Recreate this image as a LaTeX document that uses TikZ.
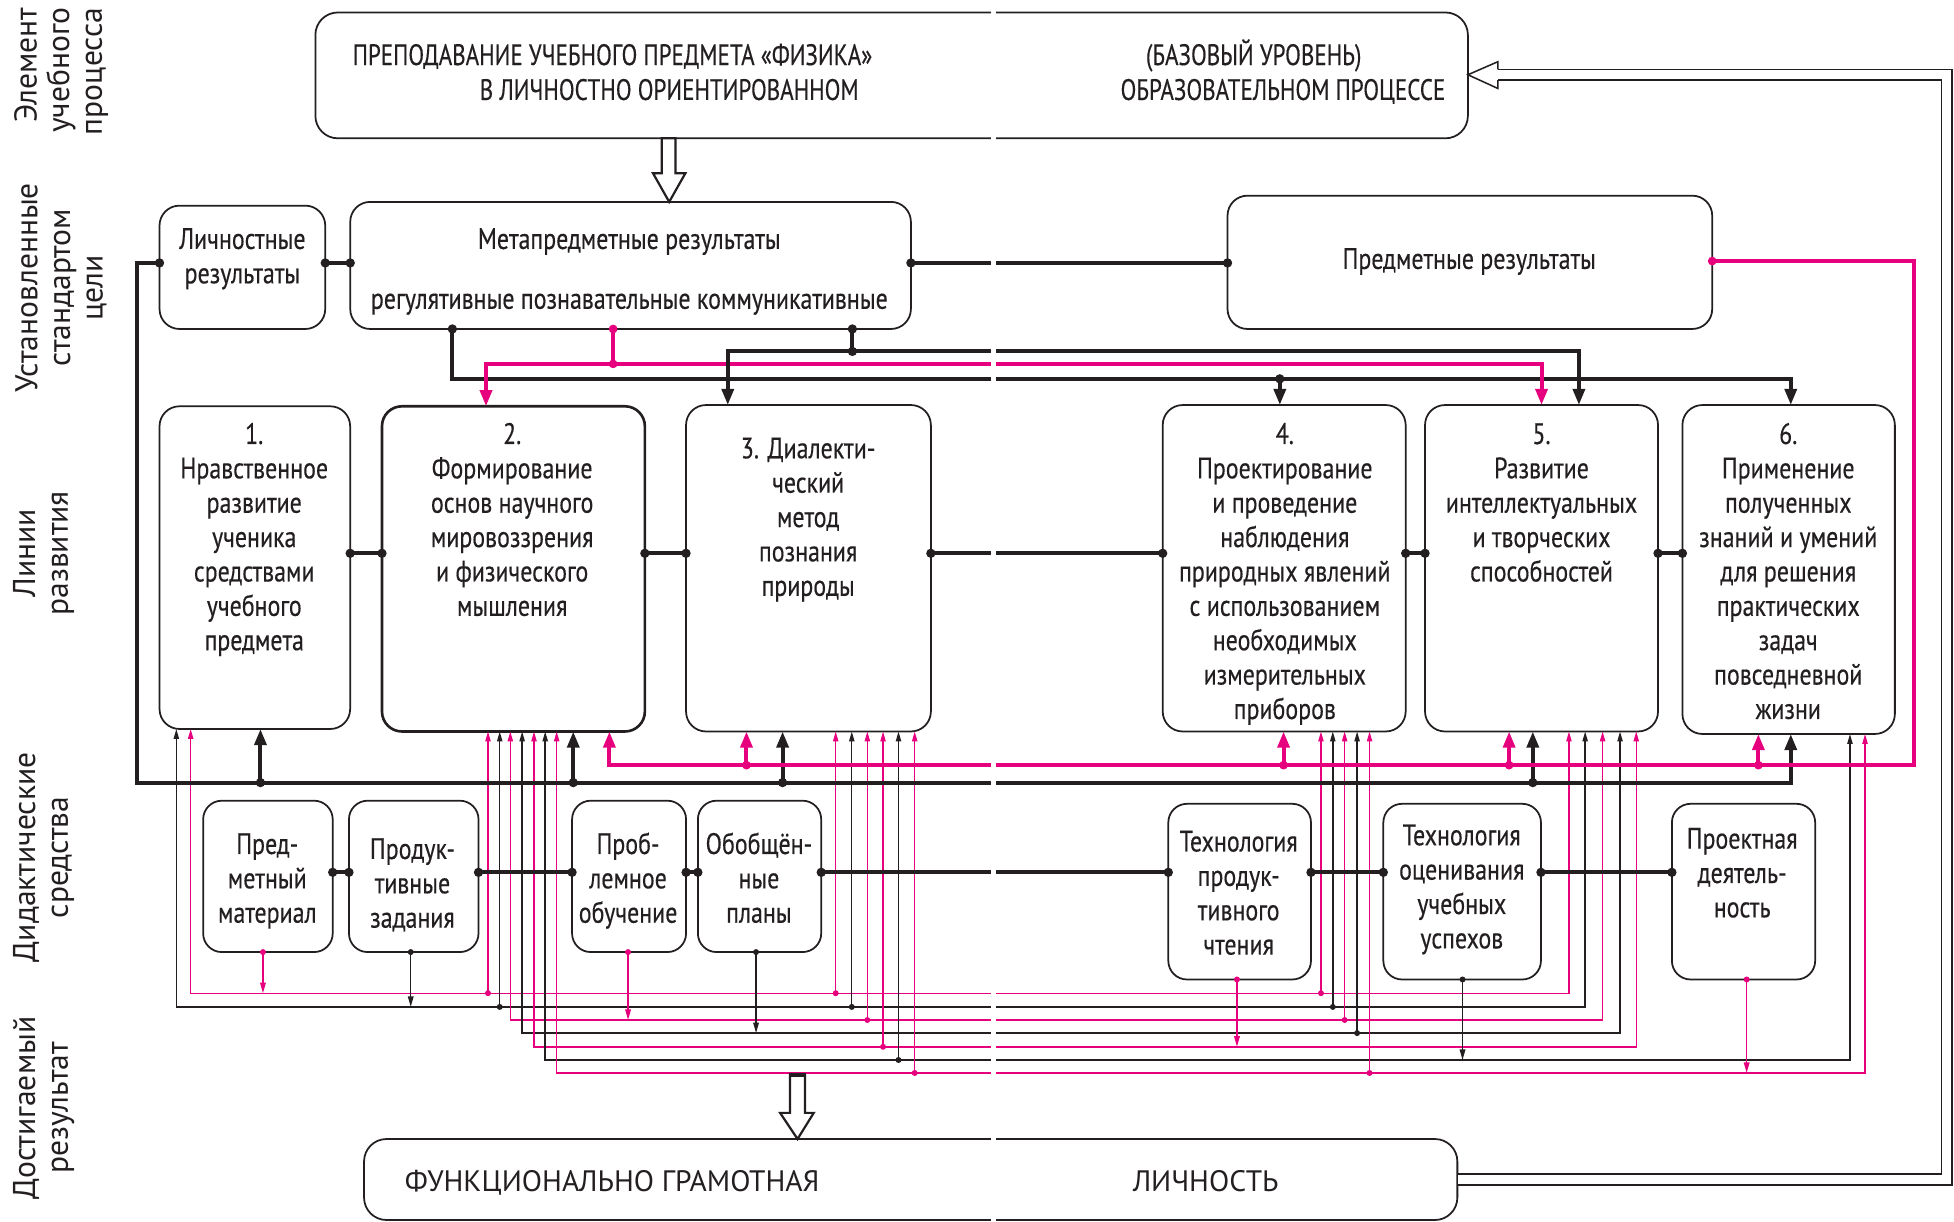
\documentclass[tikz,border=0pt]{standalone}
\usepackage{fontspec}
\setmainfont{PT Sans}[FakeStretch=0.81,FakeBold=0.35]
\newfontfamily\capsfam{PT Sans}[FakeStretch=0.78,FakeBold=0.35]
\newfontfamily\widefont{PT Sans}
\usetikzlibrary{arrows.meta}
\definecolor{ink}{RGB}{35,31,32}
\definecolor{pk}{RGB}{230,0,126}
\newcommand\bxfont{\fontsize{13.5}{15.7}\selectfont}
\newcommand\cpfont{\capsfam\fontsize{13.5}{15.7}\selectfont}
\newcommand\sdfont{\widefont\fontsize{14.4}{14.9}\selectfont}
\newcommand\btfont{\widefont\fontsize{13.5}{15.7}\selectfont}
\newcommand\bdot[1]{\fill[ink] (#1) circle (0.075cm);}
\newcommand\pdot[1]{\fill[pk] (#1) circle (0.07cm);}
\newcommand\sbd[1]{\fill[ink] (#1) circle (0.048cm);}
\newcommand\spd[1]{\fill[pk] (#1) circle (0.048cm);}
\tikzset{
  box/.style={draw=ink, line width=0.8pt, rounded corners=0.32cm, inner sep=0pt, outer sep=0pt},
  txt/.style={font=\bxfont, align=center, inner sep=0pt, anchor=north, text=ink},
  capt/.style={font=\cpfont, inner sep=0pt, text=ink},
  side/.style={font=\sdfont, align=center, inner sep=0pt, rotate=90, text=ink},
  thk/.style={draw=ink, line width=1.8pt},
  thn/.style={draw=ink, line width=0.65pt},
  pthk/.style={draw=pk, line width=1.8pt},
  pthn/.style={draw=pk, line width=0.65pt},
  bigar/.style={-{Triangle[length=0.26cm,width=0.19cm]}},
  smar/.style={-{Triangle[length=0.17cm,width=0.09cm]}},
  smartwo/.style={{Triangle[length=0.16cm,width=0.085cm]}-{Triangle[length=0.16cm,width=0.085cm]}},
  smup/.style={-{Triangle[length=0.16cm,width=0.085cm]}},
}
\begin{document}
\begin{tikzpicture}[x=0.02cm,y=-0.02cm,line join=miter]
\useasboundingbox (0,0) rectangle (1568,980);

% side labels
\node[side, anchor=east, align=right] (s1) at (49,6) {Элемент\\учебного\\процесса};
\node[side] (s2) at (49,231) {Установленные\\стандартом\\цели};
\node[side] (s3) at (35,444) {Линии\\развития};
\node[side] (s4) at (35,688) {Дидактические\\средства};
\node[side] (s5) at (35,889) {Достигаемый\\результат};

% boxes
\node[box, rounded corners=0.36cm, minimum width=18.5cm, minimum height=2.02cm] (T) at (715.5,60.5) {};
\node[box, minimum width=2.66cm, minimum height=1.98cm] (P1) at (194.5,214.5) {};
\node[box, minimum width=9.0cm, minimum height=2.04cm] (P2) at (506,213) {};
\node[box, minimum width=7.78cm, minimum height=2.14cm] (P3) at (1179.5,210.5) {};
\node[box, minimum width=3.06cm, minimum height=5.18cm] (L1) at (204.5,455.5) {};
\node[box, line width=1.2pt, minimum width=4.22cm, minimum height=5.22cm] (L2) at (412,456.5) {};
\node[box, minimum width=3.93cm, minimum height=5.24cm] (L3) at (648.75,456) {};
\node[box, minimum width=3.9cm, minimum height=5.24cm] (L4) at (1030.5,456) {};
\node[box, minimum width=3.74cm, minimum height=5.24cm] (L5) at (1237,456) {};
\node[box, minimum width=3.41cm, minimum height=5.28cm] (L6) at (1435.3,457) {};
\node[box, rounded corners=0.3cm, minimum width=2.08cm, minimum height=2.43cm] (D1) at (215,703.25) {};
\node[box, rounded corners=0.3cm, minimum width=2.08cm, minimum height=2.43cm] (D2) at (332,703.25) {};
\node[box, rounded corners=0.3cm, minimum width=1.83cm, minimum height=2.43cm] (D3) at (504.8,703.25) {};
\node[box, rounded corners=0.3cm, minimum width=1.98cm, minimum height=2.43cm] (D4) at (609.5,703.25) {};
\node[box, rounded corners=0.3cm, minimum width=2.29cm, minimum height=2.82cm] (D5) at (994.75,715.5) {};
\node[box, rounded corners=0.3cm, minimum width=2.53cm, minimum height=2.82cm] (D6) at (1173.3,715.5) {};
\node[box, rounded corners=0.3cm, minimum width=2.30cm, minimum height=2.82cm] (D7) at (1399.1,715.5) {};
\node[box, rounded corners=0.36cm, minimum width=17.55cm, minimum height=1.30cm] (B) at (730.8,946.5) {};

% texts
\node[capt, anchor=base] (t1) at (491.5,52.2) {ПРЕПОДАВАНИЕ УЧЕБНОГО ПРЕДМЕТА «ФИЗИКА»};
\node[capt, anchor=base] (t2) at (537,80.2) {В ЛИЧНОСТНО ОРИЕНТИРОВАННОМ};
\node[capt, anchor=base] (t3) at (1006,52.2) {(БАЗОВЫЙ УРОВЕНЬ)};
\node[capt, anchor=base] (t4) at (1029.5,80.2) {ОБРАЗОВАТЕЛЬНОМ ПРОЦЕССЕ};
\node[txt] (tP1) at (194.5,180.1) {\strut Личностные\\результаты};
\node[txt] (tP2a) at (505,180.1) {\strut Метапредметные результаты};
\node[txt] (tP2b) at (505,228.1) {\strut регулятивные познавательные коммуникативные};
\node[txt] (tP3) at (1179,196.1) {\strut Предметные результаты};
\node[txt] (tL1) at (204,336.6) {\strut 1.\\Нравственное\\развитие\\ученика\\средствами\\учебного\\предмета};
\node[txt] (tL2) at (411,336.6) {\strut 2.\\Формирование\\основ научного\\мировоззрения\\и физического\\мышления};
\node[txt] (tL3) at (648.5,348.1) {\strut 3. Диалекти-\\ческий\\метод\\познания\\природы};
\node[txt] (tL4) at (1031,336.6) {\strut 4.\\Проектирование\\и проведение\\наблюдения\\природных явлений\\с использованием\\необходимых\\измерительных\\приборов};
\node[txt] (tL5) at (1237,336.6) {\strut 5.\\Развитие\\интеллектуальных\\и творческих\\способностей};
\node[txt] (tL6) at (1435,336.6) {\strut 6.\\Применение\\полученных\\знаний и умений\\для решения\\практических\\задач\\повседневной\\жизни};
\node[txt] (tD1) at (214.5,665.6) {\strut Пред-\\метный\\материал};
\node[txt] (tD2) at (331,669.6) {\strut Продук-\\тивные\\задания};
\node[txt] (tD3) at (504,665.6) {\strut Проб-\\лемное\\обучение};
\node[txt] (tD4) at (609,665.6) {\strut Обобщён-\\ные\\планы};
\node[txt] (tD5) at (994,663.6) {\strut Технология\\продук-\\тивного\\чтения};
\node[txt] (tD6) at (1173,658.6) {\strut Технология\\оценивания\\учебных\\успехов};
\node[txt] (tD7) at (1398,661.3) {\strut Проектная\\деятель-\\ность};
\node[capt, font=\btfont, anchor=base] (b1) at (491.3,956) {ФУНКЦИОНАЛЬНО ГРАМОТНАЯ};
\node[capt, font=\btfont, anchor=base] (b2) at (967.5,956) {ЛИЧНОСТЬ};

% thin buses from didactic tools to development lines
\draw[pthn, smartwo] (153,0 |- L1.south) |- (1259,797) -- (1259,0 |- L5.south);
\draw[thn, smartwo] (141.5,0 |- L1.south) |- (1272,808) -- (1272,0 |- L5.south);
\draw[pthn, smartwo] (409.5,0 |- L2.south) |- (1286,818.5) -- (1286,0 |- L5.south);
\draw[thn, smartwo] (419,0 |- L2.south) |- (1300,829) -- (1300,0 |- L5.south);
\draw[pthn, smartwo] (428.5,0 |- L2.south) |- (1313,840) -- (1313,0 |- L5.south);
\draw[thn, smartwo] (437.5,0 |- L2.south) |- (1484.5,850.6) -- (1484.5,0 |- L6.south);
\draw[pthn, smartwo] (446.7,0 |- L2.south) |- (1496.6,861) -- (1496.6,0 |- L6.south);
\foreach \xx/\yy/\nn in {391.6/797/L2, 670.6/797/L3, 1060/797/L4, 696/818.5/L3, 1079/818.5/L4, 708.6/840/L3, 734/861/L3, 1099/861/L4}
  {\draw[pthn, smup] (\xx,\yy) -- (\xx,0 |- \nn.south); \spd{\xx,\yy}}
\foreach \xx/\yy/\nn in {401/808/L2, 683.5/808/L3, 1069.5/808/L4, 1089/829/L4, 721/850.6/L3}
  {\draw[thn, smup] (\xx,\yy) -- (\xx,0 |- \nn.south); \sbd{\xx,\yy}}
\draw[pthn, smar] (211,0 |- D1.south) -- (211,797); \spd{211,0 |- D1.south}
\draw[thn, smar] (329.6,0 |- D2.south) -- (329.6,808); \sbd{329.6,0 |- D2.south}
\draw[pthn, smar] (504,0 |- D3.south) -- (504,818.5); \spd{504,0 |- D3.south}
\draw[thn, smar] (606.7,0 |- D4.south) -- (606.7,829); \sbd{606.7,0 |- D4.south}
\draw[pthn, smar] (992.6,0 |- D5.south) -- (992.6,840); \spd{992.6,0 |- D5.south}
\draw[thn, smar] (1173.6,0 |- D6.south) -- (1173.6,850.6); \sbd{1173.6,0 |- D6.south}
\draw[pthn, smar] (1401.6,0 |- D7.south) -- (1401.6,861); \spd{1401.6,0 |- D7.south}

% row 2 links
\draw[thk] (P1.east |- 0,211) -- (P2.west |- 0,211);
\bdot{P1.east |- 0,211}\bdot{P2.west |- 0,211}
\draw[thk] (P2.east |- 0,211) -- (P3.west |- 0,211);
\bdot{P2.east |- 0,211}\bdot{P3.west |- 0,211}

% personal results loop
\draw[thk, bigar] (P1.west |- 0,211) -| (110,628) -- (1437,628) -- (1437,0 |- L6.south);
\bdot{P1.west |- 0,211}
\foreach \xx/\nn in {209/L1,460/L2,628/L3,1230/L5}
  {\draw[thk, bigar] (\xx,628) -- (\xx,0 |- \nn.south); \bdot{\xx,628}}

% subject results loop
\draw[pthk, bigar] (P3.east |- 0,209.5) -| (1536,614) -- (489,614) -- (489,0 |- L2.south);
\pdot{P3.east |- 0,209.5}
\foreach \xx/\nn in {599/L3,1030/L4,1211/L5,1411/L6}
  {\draw[pthk, bigar] (\xx,614) -- (\xx,0 |- \nn.south); \pdot{\xx,614}}

% meta results to lines
\draw[thk, bigar] (363,0 |- P2.south) |- (1437,304) -- (1437,0 |- L6.north);
\bdot{363,0 |- P2.south}
\draw[thk, bigar] (1027,304) -- (1027,0 |- L4.north); \bdot{1027,304}
\draw[pthk] (492,0 |- P2.south) -- (492,292);
\pdot{492,0 |- P2.south}\pdot{492,292}
\draw[pthk, bigar] (492,292) -| (390,0 |- L2.north);
\draw[pthk, bigar] (492,292) -| (1237,0 |- L5.north);
\draw[thk] (684,0 |- P2.south) -- (684,282);
\bdot{684,0 |- P2.south}\bdot{684,282}
\draw[thk, bigar] (684,282) -| (584,0 |- L3.north);
\draw[thk, bigar] (684,282) -| (1267,0 |- L5.north);

% row 3 links
\foreach \a/\b in {L1/L2,L2/L3,L3/L4,L4/L5,L5/L6}
  {\draw[thk] (\a.east |- 0,444) -- (\b.west |- 0,444); \bdot{\a.east |- 0,444}\bdot{\b.west |- 0,444}}
% row 4 links
\foreach \a/\b in {D1/D2,D2/D3,D3/D4,D4/D5,D5/D6,D6/D7}
  {\draw[thk] (\a.east |- 0,700) -- (\b.west |- 0,700); \bdot{\a.east |- 0,700}\bdot{\b.west |- 0,700}}

% hollow arrows
\draw[ink, line width=1pt, fill=white] (531,0 |- T.south) -- (531,139) -- (524,139) -- (537,0 |- P2.north) -- (550,139) -- (542,139) -- (542,0 |- T.south) -- cycle;
\draw[ink, line width=1pt, fill=white] (634,862) -- (634,893) -- (626,893) -- (640,0 |- B.north) -- (653,893) -- (646,893) -- (646,862) -- cycle;
\draw[ink, line width=2pt] (634,862.5) -- (646,862.5);

% feedback double line
\draw[ink, line width=0.7pt, double=white, double distance=4.1pt] ([xshift=0.4pt]B.east) -- (1562,946.5) -- (1562,60) -- (1202,60);
\draw[ink, line width=0.7pt] (1202,55.7) -- (1202,49.5) -- (T.east |- 0,60) -- (1202,71) -- (1202,64.3);

% white split
\fill[white] (795,0) rectangle (799.5,980);
\end{tikzpicture}
\end{document}
